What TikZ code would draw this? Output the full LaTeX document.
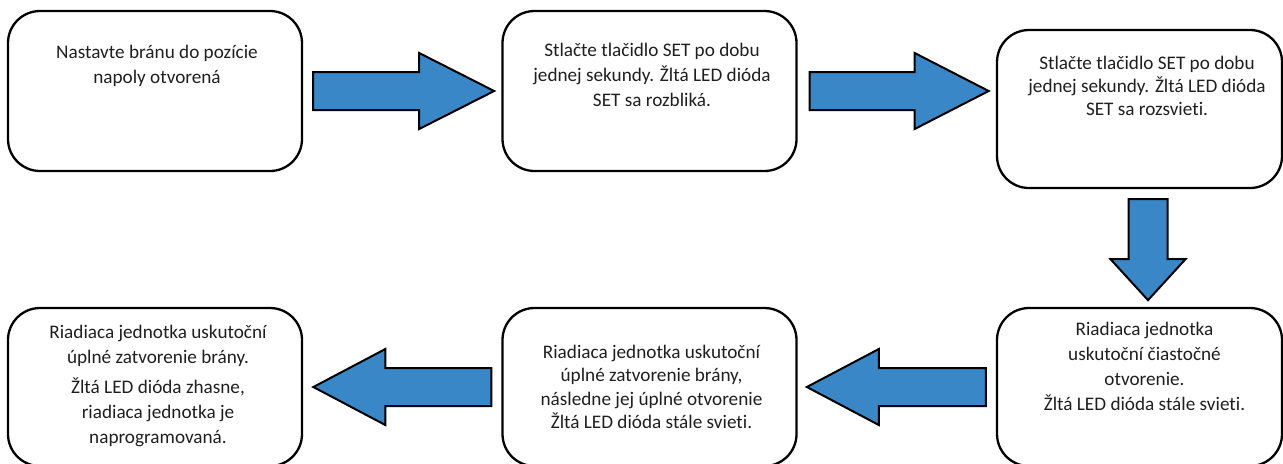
\documentclass[tikz,border=0pt]{standalone}
\usepackage{fontspec}
\setmainfont{Carlito}[Ligatures=NoCommon]
\usetikzlibrary{positioning,calc}
\definecolor{flowblue}{HTML}{3A87C8}
\definecolor{textgray}{HTML}{1F1F1F}
\tikzset{
  box_/.style   = {shape=rectangle, draw, rounded corners=16pt, line width=1.15pt,
                   minimum width=147pt, minimum height=80pt},
  text_/.style  = {align=center, inner sep=0pt, text=textgray,
                   font=\fontsize{9.6}{12.5}\selectfont},
  arrow_/.style = {draw, fill=flowblue, line width=1pt, line join=miter}
}
% #1 tail, #2 direction, #3 length, #4 head length, #5 shaft half width, #6 head half width
\newcommand{\blockarrow}[6]{%
  \draw [arrow_, shift={#1}, rotate=#2]
    (0,-#5) -- (#3-#4,-#5) -- (#3-#4,-#6) -- (#3,0) -- (#3-#4,#6) -- (#3-#4,#5) -- (0,#5) -- cycle;
}

\begin{document}
\begin{tikzpicture}
		[
		x = 0.5pt,
		y = -0.5pt
		]
		\useasboundingbox (0,0) rectangle (1283,463);
		\node [box_] (b1) at (155,91) {};
		\node [box_] (b2) at (649.5,91) {};
		\node [box_, minimum width=142.5pt, minimum height=79pt] (b3) at (1139.5,109) {};
		\node [box_, minimum width=142.5pt, minimum height=79pt] (b4) at (1139.5,387) {};
		\node [box_, minimum height=79pt] (b5) at (649.5,387) {};
		\node [box_, minimum height=79pt] (b6) at (155,387) {};

		\node [text_, anchor=north] (t1) at ($(b1.north)+(2,35)$)
			{Nastavte bránu do pozície\\napoly otvorená};
		\node [text_, anchor=north] (t2) at ($(b2.north)+(2.5,33)$)
			{Stlačte tlačidlo SET po dobu\\jednej sekundy. Žltá LED dióda\\SET sa rozbliká.};
		\node [text_, anchor=north, font=\fontsize{9.6}{11.6}\selectfont] (t3) at ($(b3.north)+(7.5,27)$)
			{Stlačte tlačidlo SET po dobu\\jednej sekundy. Žltá LED dióda\\SET sa rozsvieti.};
		\node [text_, anchor=north] (t4) at ($(b4.north)+(5,15)$)
			{Riadiaca jednotka\\uskutoční čiastočné\\otvorenie.\\Žltá LED dióda stále svieti.};
		\node [text_, anchor=north, font=\fontsize{9.6}{11.7}\selectfont] (t5) at ($(b5.north)+(2,38)$)
			{Riadiaca jednotka uskutoční\\úplné zatvorenie brány,\\následne jej úplné otvorenie\\Žltá LED dióda stále svieti.};
		\node [text_, anchor=north] (t6) at ($(b6.north)+(3,18)$)
			{Riadiaca jednotka uskutoční\\úplné zatvorenie brány.\\[2.5pt]Žltá LED dióda zhasne,\\riadiaca jednotka je\\naprogramovaná.};

		\blockarrow{($(b1.east)+(10,0)$)}{0}{181}{75}{19}{38}
		\blockarrow{($(b2.east)+(12,0)$)}{0}{179}{74}{19}{38}
		\blockarrow{($(b3.south)+(8.5,10)$)}{-90}{101}{41}{19.5}{37.5}
		\blockarrow{($(b4.west)+(-10,0)$)}{180}{179}{72}{19}{38}
		\blockarrow{($(b5.west)+(-10,0)$)}{180}{178}{72}{19}{38}
\end{tikzpicture}
\end{document}
